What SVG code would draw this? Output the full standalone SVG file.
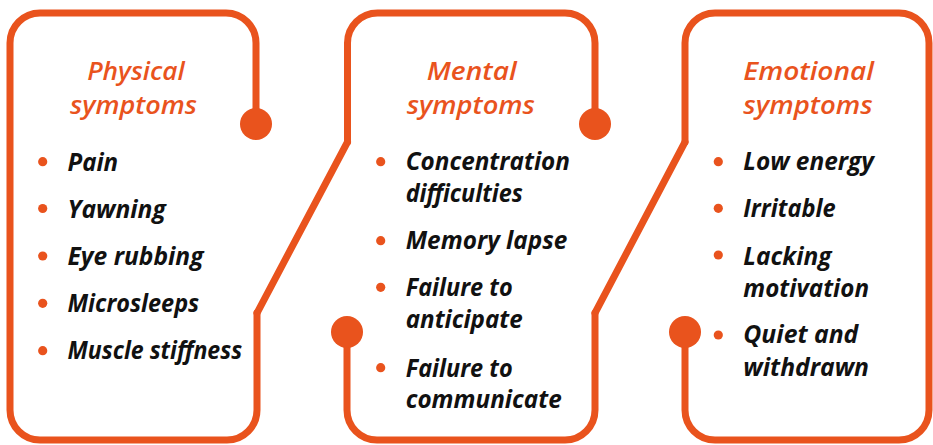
<svg xmlns="http://www.w3.org/2000/svg" width="933" height="445" viewBox="0 0 933 445">
<style>
.frame{fill:none;stroke:#E9531D;stroke-width:7;stroke-linecap:round;stroke-linejoin:round}
.dot{fill:#E9531D}
.bul{fill:#E9531D}
.hd{font-family:"Open Sans","Noto Sans","Liberation Sans",sans-serif;font-style:italic;font-weight:600;font-size:26px;fill:#E9531D;text-anchor:middle}
.it{font-family:"Open Sans","Noto Sans","Liberation Sans",sans-serif;font-style:italic;font-weight:700;font-size:24.5px;fill:#111111}
</style>
<rect width="933" height="445" fill="#ffffff"/>
<g id="connectors">
<path class="frame" d="M 257 313 L 347.5 142"/>
<path class="frame" d="M 595 313 L 685 142"/>
</g>
<g id="physical">
<path class="frame" d="M 256 124 V 43 A 30 30 0 0 0 226 13 H 40 A 30 30 0 0 0 10 43 V 410 A 30 30 0 0 0 40 440 H 227 A 30 30 0 0 0 257 410 V 313"/>
<circle class="dot" cx="256" cy="124" r="16"/>
<text class="hd" x="136" y="79.5" textLength="97.7" lengthAdjust="spacingAndGlyphs">Physical</text>
<text class="hd" x="133.5" y="113.5" textLength="127" lengthAdjust="spacingAndGlyphs">symptoms</text>
<circle class="bul" cx="42.7" cy="161.7" r="4.6"/>
<circle class="bul" cx="42.7" cy="208.5" r="4.6"/>
<circle class="bul" cx="42.7" cy="256" r="4.6"/>
<circle class="bul" cx="42.7" cy="303.3" r="4.6"/>
<circle class="bul" cx="42.7" cy="350.7" r="4.6"/>
<text class="it" x="67.5" y="170.5" textLength="50.6" lengthAdjust="spacingAndGlyphs">Pain</text>
<text class="it" x="67.5" y="217.5" textLength="98.3" lengthAdjust="spacingAndGlyphs">Yawning</text>
<text class="it" x="67.5" y="265" textLength="136" lengthAdjust="spacingAndGlyphs">Eye rubbing</text>
<text class="it" x="67.5" y="312" textLength="131.7" lengthAdjust="spacingAndGlyphs">Microsleeps</text>
<text class="it" x="67.5" y="358.5" textLength="174.6" lengthAdjust="spacingAndGlyphs">Muscle stiffness</text>
</g>
<g id="mental">
<path class="frame" d="M 347.5 142 V 43 A 30 30 0 0 1 377.5 13 H 565 A 30 30 0 0 1 595 43 V 124"/>
<path class="frame" d="M 347 332 V 410 A 30 30 0 0 0 377 440 H 565 A 30 30 0 0 0 595 410 V 313"/>
<circle class="dot" cx="595" cy="124" r="16"/>
<circle class="dot" cx="347" cy="332" r="16"/>
<text class="hd" x="471.7" y="79.5" textLength="90" lengthAdjust="spacingAndGlyphs">Mental</text>
<text class="hd" x="470.8" y="113.5" textLength="128.3" lengthAdjust="spacingAndGlyphs">symptoms</text>
<circle class="bul" cx="380.7" cy="161.7" r="4.6"/>
<circle class="bul" cx="380.7" cy="240.7" r="4.6"/>
<circle class="bul" cx="380.7" cy="287.3" r="4.6"/>
<circle class="bul" cx="380.7" cy="367.7" r="4.6"/>
<text class="it" x="405.7" y="170" textLength="164.3" lengthAdjust="spacingAndGlyphs">Concentration</text>
<text class="it" x="405.7" y="201.7" textLength="117" lengthAdjust="spacingAndGlyphs">difficulties</text>
<text class="it" x="405.7" y="249.3" textLength="161.7" lengthAdjust="spacingAndGlyphs">Memory lapse</text>
<text class="it" x="405.7" y="296" textLength="107" lengthAdjust="spacingAndGlyphs">Failure to</text>
<text class="it" x="405.7" y="328" textLength="117" lengthAdjust="spacingAndGlyphs">anticipate</text>
<text class="it" x="405.7" y="376.7" textLength="107" lengthAdjust="spacingAndGlyphs">Failure to</text>
<text class="it" x="405.7" y="408.3" textLength="156" lengthAdjust="spacingAndGlyphs">communicate</text>
</g>
<g id="emotional">
<path class="frame" d="M 685 142 V 43 A 30 30 0 0 1 715 13 H 899 A 30 30 0 0 1 929 43 V 410 A 30 30 0 0 1 899 440 H 715 A 30 30 0 0 1 685 410 V 332"/>
<circle class="dot" cx="685" cy="332" r="16"/>
<text class="hd" x="808.7" y="79.5" textLength="130.7" lengthAdjust="spacingAndGlyphs">Emotional</text>
<text class="hd" x="808" y="113.5" textLength="129.3" lengthAdjust="spacingAndGlyphs">symptoms</text>
<circle class="bul" cx="718.3" cy="161.7" r="4.6"/>
<circle class="bul" cx="718.3" cy="208.3" r="4.6"/>
<circle class="bul" cx="718.3" cy="255" r="4.6"/>
<circle class="bul" cx="718.3" cy="335" r="4.6"/>
<text class="it" x="743.3" y="170" textLength="130.7" lengthAdjust="spacingAndGlyphs">Low energy</text>
<text class="it" x="743.3" y="217.3" textLength="92.3" lengthAdjust="spacingAndGlyphs">Irritable</text>
<text class="it" x="743.3" y="265" textLength="88.3" lengthAdjust="spacingAndGlyphs">Lacking</text>
<text class="it" x="743.3" y="296.5" textLength="125.7" lengthAdjust="spacingAndGlyphs">motivation</text>
<text class="it" x="743.3" y="343.3" textLength="115" lengthAdjust="spacingAndGlyphs">Quiet and</text>
<text class="it" x="743.3" y="376" textLength="125.7" lengthAdjust="spacingAndGlyphs">withdrawn</text>
</g>
</svg>
